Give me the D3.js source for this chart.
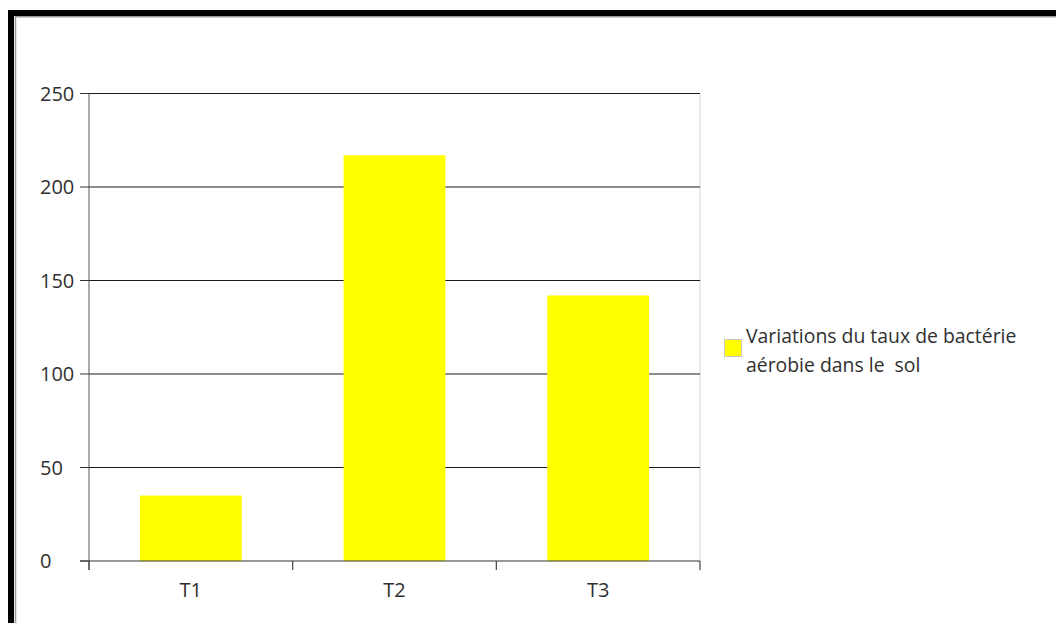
<!DOCTYPE html>
<html>
<head>
<meta charset="utf-8">
<script src="https://cdn.jsdelivr.net/npm/d3@7"></script>
<style>
  html, body { margin: 0; padding: 0; background: #ffffff; }
  svg { display: block; }
  text { font-family: "Open Sans", Lato, sans-serif; fill: #303030; }
</style>
</head>
<body>
<svg id="chart" width="1056" height="623"></svg>
<script>
// Soil aerobic bacteria counts at three sampling times
const categories = ["T1", "T2", "T3"];
const values = [35, 217, 142];
const yTicks = [0, 50, 100, 150, 200, 250];
const legendLines = ["Variations du taux de bactérie", "aérobie dans le  sol"];

const svg = d3.select("#chart");
const W = 1056, H = 623;

// page frame: heavy black edge with a thin grey inner line
svg.append("rect").attr("x", 0).attr("y", 0).attr("width", W).attr("height", H).attr("fill", "#fff");
svg.append("rect").attr("x", 8).attr("y", 10).attr("width", W - 8).attr("height", 6).attr("fill", "#000");
svg.append("rect").attr("x", 8).attr("y", 10).attr("width", 6).attr("height", H - 10).attr("fill", "#000");
svg.append("line").attr("x1", 15.5).attr("x2", 15.5).attr("y1", 16).attr("y2", H)
  .attr("stroke", "#9a9a9a").attr("stroke-width", 1.5);
svg.append("line").attr("x1", 15).attr("x2", W).attr("y1", 16.8).attr("y2", 16.8)
  .attr("stroke", "#9a9a9a").attr("stroke-width", 1.5);

const plot = { left: 89, right: 700, top: 93.5, bottom: 561 };

const x = d3.scaleBand()
  .domain(categories)
  .range([plot.left, plot.right])
  .paddingInner(0.5)
  .paddingOuter(0.25);

const y = d3.scaleLinear()
  .domain([0, 250])
  .range([plot.bottom, plot.top]);

// right edge of the plot area
svg.append("line")
  .attr("x1", plot.right).attr("x2", plot.right)
  .attr("y1", plot.top).attr("y2", plot.bottom)
  .attr("stroke", "#d4d4d4").attr("stroke-width", 1);

// horizontal gridlines
svg.append("g").selectAll("line")
  .data(yTicks.filter(d => d > 0))
  .join("line")
  .attr("x1", plot.left).attr("x2", plot.right)
  .attr("y1", d => y(d)).attr("y2", d => y(d))
  .attr("stroke", "#1a1a1a").attr("stroke-width", 1);

// bars
svg.append("g").selectAll("rect")
  .data(categories.map((c, i) => ({ c, v: values[i] })))
  .join("rect")
  .attr("x", d => x(d.c))
  .attr("width", x.bandwidth())
  .attr("y", d => y(d.v))
  .attr("height", d => y(0) - y(d.v))
  .attr("fill", "#ffff00");

// y axis: line, ticks and left-aligned labels
const yAxis = svg.append("g");
yAxis.append("line")
  .attr("x1", plot.left).attr("x2", plot.left)
  .attr("y1", plot.top).attr("y2", plot.bottom + 9)
  .attr("stroke", "#555").attr("stroke-width", 1);
yAxis.selectAll("line.tick")
  .data(yTicks)
  .join("line")
  .attr("class", "tick")
  .attr("x1", plot.left - 9).attr("x2", plot.left)
  .attr("y1", d => y(d)).attr("y2", d => y(d))
  .attr("stroke", "#333").attr("stroke-width", 1);
yAxis.selectAll("text")
  .data(yTicks)
  .join("text")
  .attr("x", 40)
  .attr("y", d => y(d))
  .attr("dy", "0.36em")
  .attr("font-size", 20)
  .text(d => d);

// x axis: baseline, category boundary ticks and labels
const xAxis = svg.append("g");
xAxis.append("line")
  .attr("x1", plot.left - 9).attr("x2", plot.right)
  .attr("y1", plot.bottom).attr("y2", plot.bottom)
  .attr("stroke", "#333").attr("stroke-width", 1);
const step = x.step();
const bounds = d3.range(categories.length + 1).map(i => plot.left + i * step);
xAxis.selectAll("line.tick")
  .data(bounds)
  .join("line")
  .attr("class", "tick")
  .attr("x1", d => d).attr("x2", d => d)
  .attr("y1", plot.bottom).attr("y2", plot.bottom + 9)
  .attr("stroke", "#444").attr("stroke-width", 1.2);
xAxis.selectAll("text")
  .data(categories)
  .join("text")
  .attr("x", d => x(d) + x.bandwidth() / 2)
  .attr("y", 597)
  .attr("text-anchor", "middle")
  .attr("font-size", 20)
  .text(d => d);

// legend
const legend = svg.append("g");
legend.append("rect")
  .attr("x", 724.5).attr("y", 339.5)
  .attr("width", 17).attr("height", 17)
  .attr("fill", "#ffff00")
  .attr("stroke", "#c8c8c8").attr("stroke-width", 1);
legend.selectAll("text")
  .data(legendLines)
  .join("text")
  .attr("x", 746)
  .attr("y", (d, i) => 343 + i * 29)
  .attr("font-size", 19.4)
  .style("white-space", "pre")
  .text(d => d);
</script>
</body>
</html>
